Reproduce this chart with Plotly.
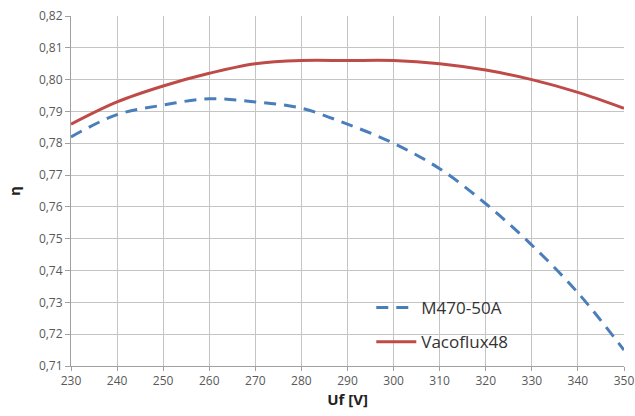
import plotly.graph_objects as go

uf = [230, 240, 250, 260, 270, 280, 290, 300, 310, 320, 330, 340, 350]
m470 = [0.782, 0.789, 0.792, 0.794, 0.793, 0.791, 0.786, 0.780, 0.772, 0.761, 0.748, 0.733, 0.715]
vaco = [0.786, 0.793, 0.798, 0.802, 0.805, 0.806, 0.806, 0.806, 0.805, 0.803, 0.800, 0.796, 0.791]
xticks = list(range(230, 351, 10))
yticks = [round(0.71 + 0.01 * i, 2) for i in range(12)]
ytext = [f"{v:.2f}".replace(".", ",") for v in yticks]

fig = go.Figure()
fig.add_trace(go.Scatter(x=uf, y=m470, mode="lines", name="M470-50A", legendgroup="a",
                         line=dict(color="#4a7ebb", width=3, dash="12px,8px", shape="spline")))
fig.add_trace(go.Scatter(x=uf, y=vaco, mode="lines", name="Vacoflux48", legendgroup="b",
                         line=dict(color="#be4b48", width=3, shape="spline")))

fig.update_layout(
    width=635, height=416,
    margin=dict(l=71, r=11, t=16, b=50),
    paper_bgcolor="white", plot_bgcolor="white",
    font=dict(family="Open Sans, Liberation Sans, sans-serif", color="#595959", size=12),
    showlegend=True,
    legend=dict(x=0.543, y=0.217, xanchor="left", yanchor="top",
                bgcolor="rgba(0,0,0,0)", font=dict(size=17, color="#333333"),
                tracegroupgap=9, itemwidth=40),
    xaxis=dict(range=[230, 350], tickvals=xticks, showgrid=True, gridcolor="#c4c4c4",
               gridwidth=1, showline=True, linecolor="#a0a0a0", ticks="outside",
               ticklen=4, tickcolor="#a0a0a0", zeroline=False, automargin=False,
               ticklabeloverflow="allow",
               title=dict(text="<b>Uf [V]</b>", font=dict(size=15, color="#222222"), standoff=6)),
    yaxis=dict(range=[0.71, 0.82], tickvals=yticks, ticktext=ytext, showgrid=True,
               gridcolor="#c4c4c4", gridwidth=1, showline=True, linecolor="#a0a0a0",
               ticks="outside", ticklen=5, tickcolor="#a0a0a0", zeroline=False,
               automargin=False,
               title=dict(text="<b>η</b>", font=dict(size=15, color="#222222"), standoff=14)),
)
fig.write_html("out.html")
